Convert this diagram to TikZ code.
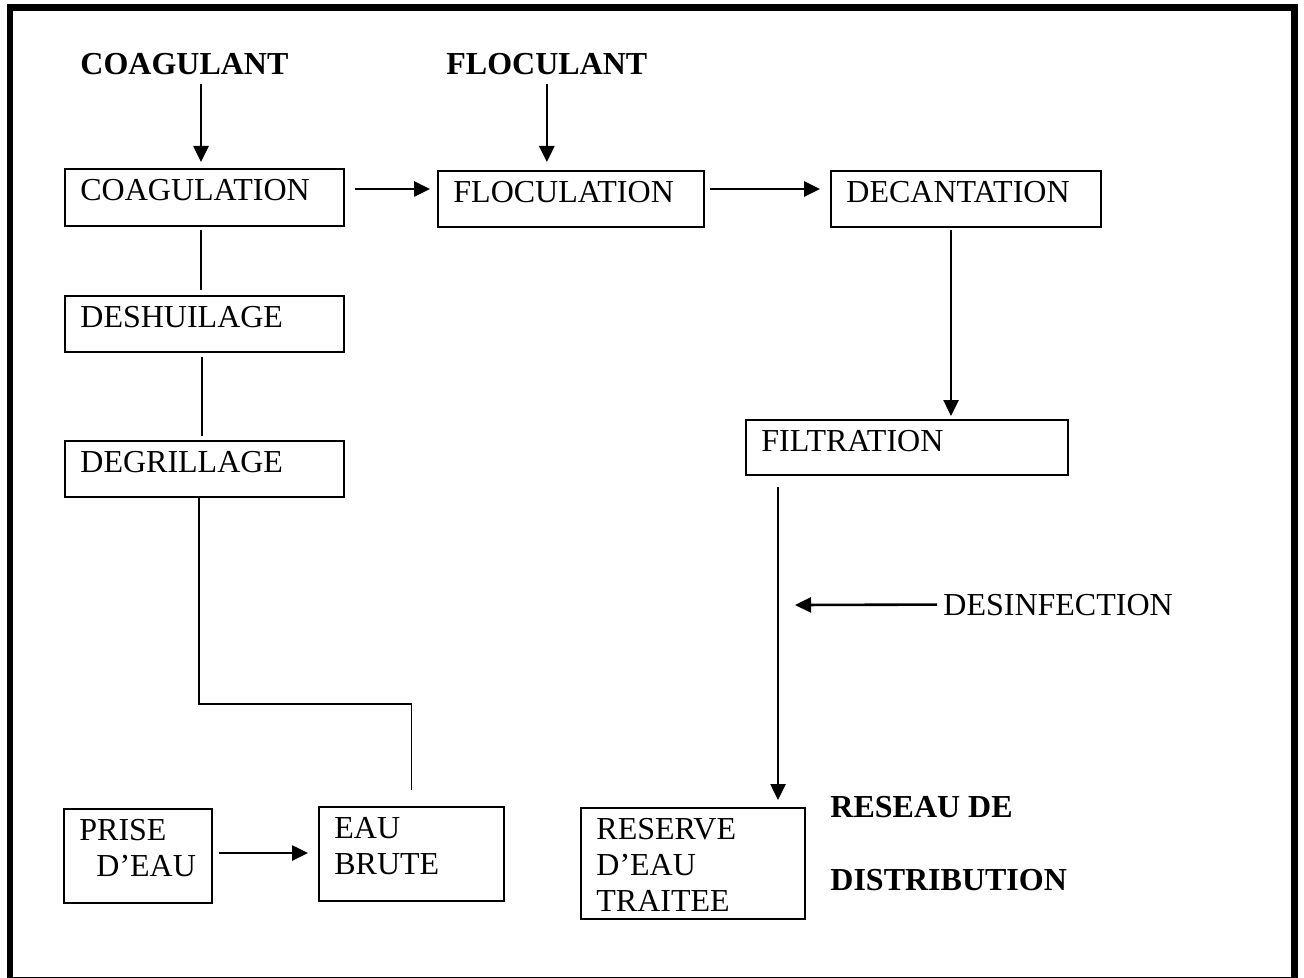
\documentclass[tikz,border=0pt]{standalone}
\usepackage{fontspec}
\setmainfont{Liberation Serif}
\usetikzlibrary{arrows.meta,calc}

\begin{document}
\begin{tikzpicture}[x=0.5pt,y=-0.5pt,font=\fontsize{16}{18}\selectfont]
        \tikzset{process/.style = {shape=rectangle,draw,line width=1pt,anchor=north west,inner sep=0pt}}
        \tikzset{boxtext/.style = {anchor=north west,inner sep=0pt,xshift=8pt,yshift=-5.5pt,align=left}}
        \tikzset{reagent/.style = {anchor=base west,inner sep=0pt,font=\fontsize{16}{18}\selectfont\bfseries}}
        \tikzset{edge/.style = {-{Triangle[length=8pt,width=7.5pt]},line width=1.3pt}}
        \tikzset{link/.style = {line width=0.8pt}}
        \useasboundingbox (0,0) rectangle (1304,978);
        \draw[line width=3.2pt] (10,7.5) rectangle (1294.5,980);
        % reagents
        \node[reagent] (coagulant) at (80,75) {COAGULANT};
        \node[reagent] (floculant) at (446,75) {FLOCULANT};
        \node[reagent] (reseau) at (830,817) {RESEAU DE};
        \node[reagent] (distrib) at (830,890) {DISTRIBUTION};
        \node[anchor=base west,inner sep=0pt] (desinf) at (943,615) {DESINFECTION};
        % steps
        \node[process,minimum width=139.5pt,minimum height=28.5pt,label={[boxtext,name=coagtext]north west:COAGULATION}] (coag) at (64,168) {};
        \node[process,minimum width=133pt,minimum height=28pt,label={[boxtext,name=floctext]north west:FLOCULATION}] (floc) at (437,170) {};
        \node[process,minimum width=135pt,minimum height=28pt,label={[boxtext,name=decanttext]north west:DECANTATION}] (decant) at (830,170) {};
        \node[process,minimum width=139.5pt,minimum height=28pt,label={[boxtext,name=deshtext]north west:DESHUILAGE}] (desh) at (64,295) {};
        \node[process,minimum width=139.5pt,minimum height=28pt,label={[boxtext,name=degrtext]north west:DEGRILLAGE}] (degr) at (64,440) {};
        \node[process,minimum width=161pt,minimum height=27.5pt,label={[boxtext,name=filttext]north west:FILTRATION}] (filt) at (745,419) {};
        \node[process,minimum width=74pt,minimum height=47pt,label={[boxtext,name=prisetext]north west:{PRISE\\\hspace*{8.5pt}D’EAU}}] (prise) at (63,808) {};
        \node[process,minimum width=92.5pt,minimum height=47pt,label={[boxtext,name=brutetext]north west:{EAU\\BRUTE}}] (brute) at (318,806) {};
        \node[process,minimum width=112pt,minimum height=55.5pt,label={[boxtext,name=reservetext]north west:{RESERVE\\D’EAU\\TRAITEE}}] (reserve) at (580,807) {};
        % edges
        \draw[edge,shorten <=4pt,shorten >=3pt] ($(coag.north |- coagulant.south)+(-3.5,0)$) -- ($(coag.north)+(-3.5,0)$);
        \draw[edge,shorten <=4pt,shorten >=4pt] (floculant.south) -- (floculant.south |- floc.north);
        \draw[edge,shorten <=5pt,shorten >=3.5pt] ($(coag.east)+(0,-8.5)$) -- ($(coag.east -| floc.west)+(0,-8.5)$);
        \draw[edge,shorten <=2.5pt,shorten >=5pt] ($(floc.east)+(0,-10)$) -- ($(floc.east -| decant.west)+(0,-10)$);
        \draw[edge,shorten <=1pt,shorten >=1.5pt] ($(decant.south)+(-15,0)$) -- ($(decant.south |- filt.north)+(-15,0)$);
        \draw[edge,shorten <=5.5pt,shorten >=3.5pt] ($(filt.south west)+(33,0)$) -- ($(filt.south west |- reserve.north)+(33,0)$);
        \coordinate (dose) at (795,605);
        \draw[edge,shorten <=3pt] (desinf.west) -- (dose);
        \draw[edge,shorten <=3pt,shorten >=5pt] ($(prise.east)+(0,-3)$) -- ($(prise.east -| brute.west)+(0,-3)$);
        % links
        \draw[link,shorten <=1.5pt,shorten >=2.5pt] ($(coag.south)+(-3.5,0)$) -- ($(desh.north)+(-3.5,0)$);
        \draw[link,shorten <=2pt,shorten >=2pt] ($(desh.south)+(-2.5,0)$) -- ($(degr.north)+(-2.5,0)$);
        \coordinate (bend) at (300,704);
        \draw[link,shorten >=8pt] ($(degr.south)+(-5.5,0)$) |- (bend) -| (brute.north);
\end{tikzpicture}
\end{document}
